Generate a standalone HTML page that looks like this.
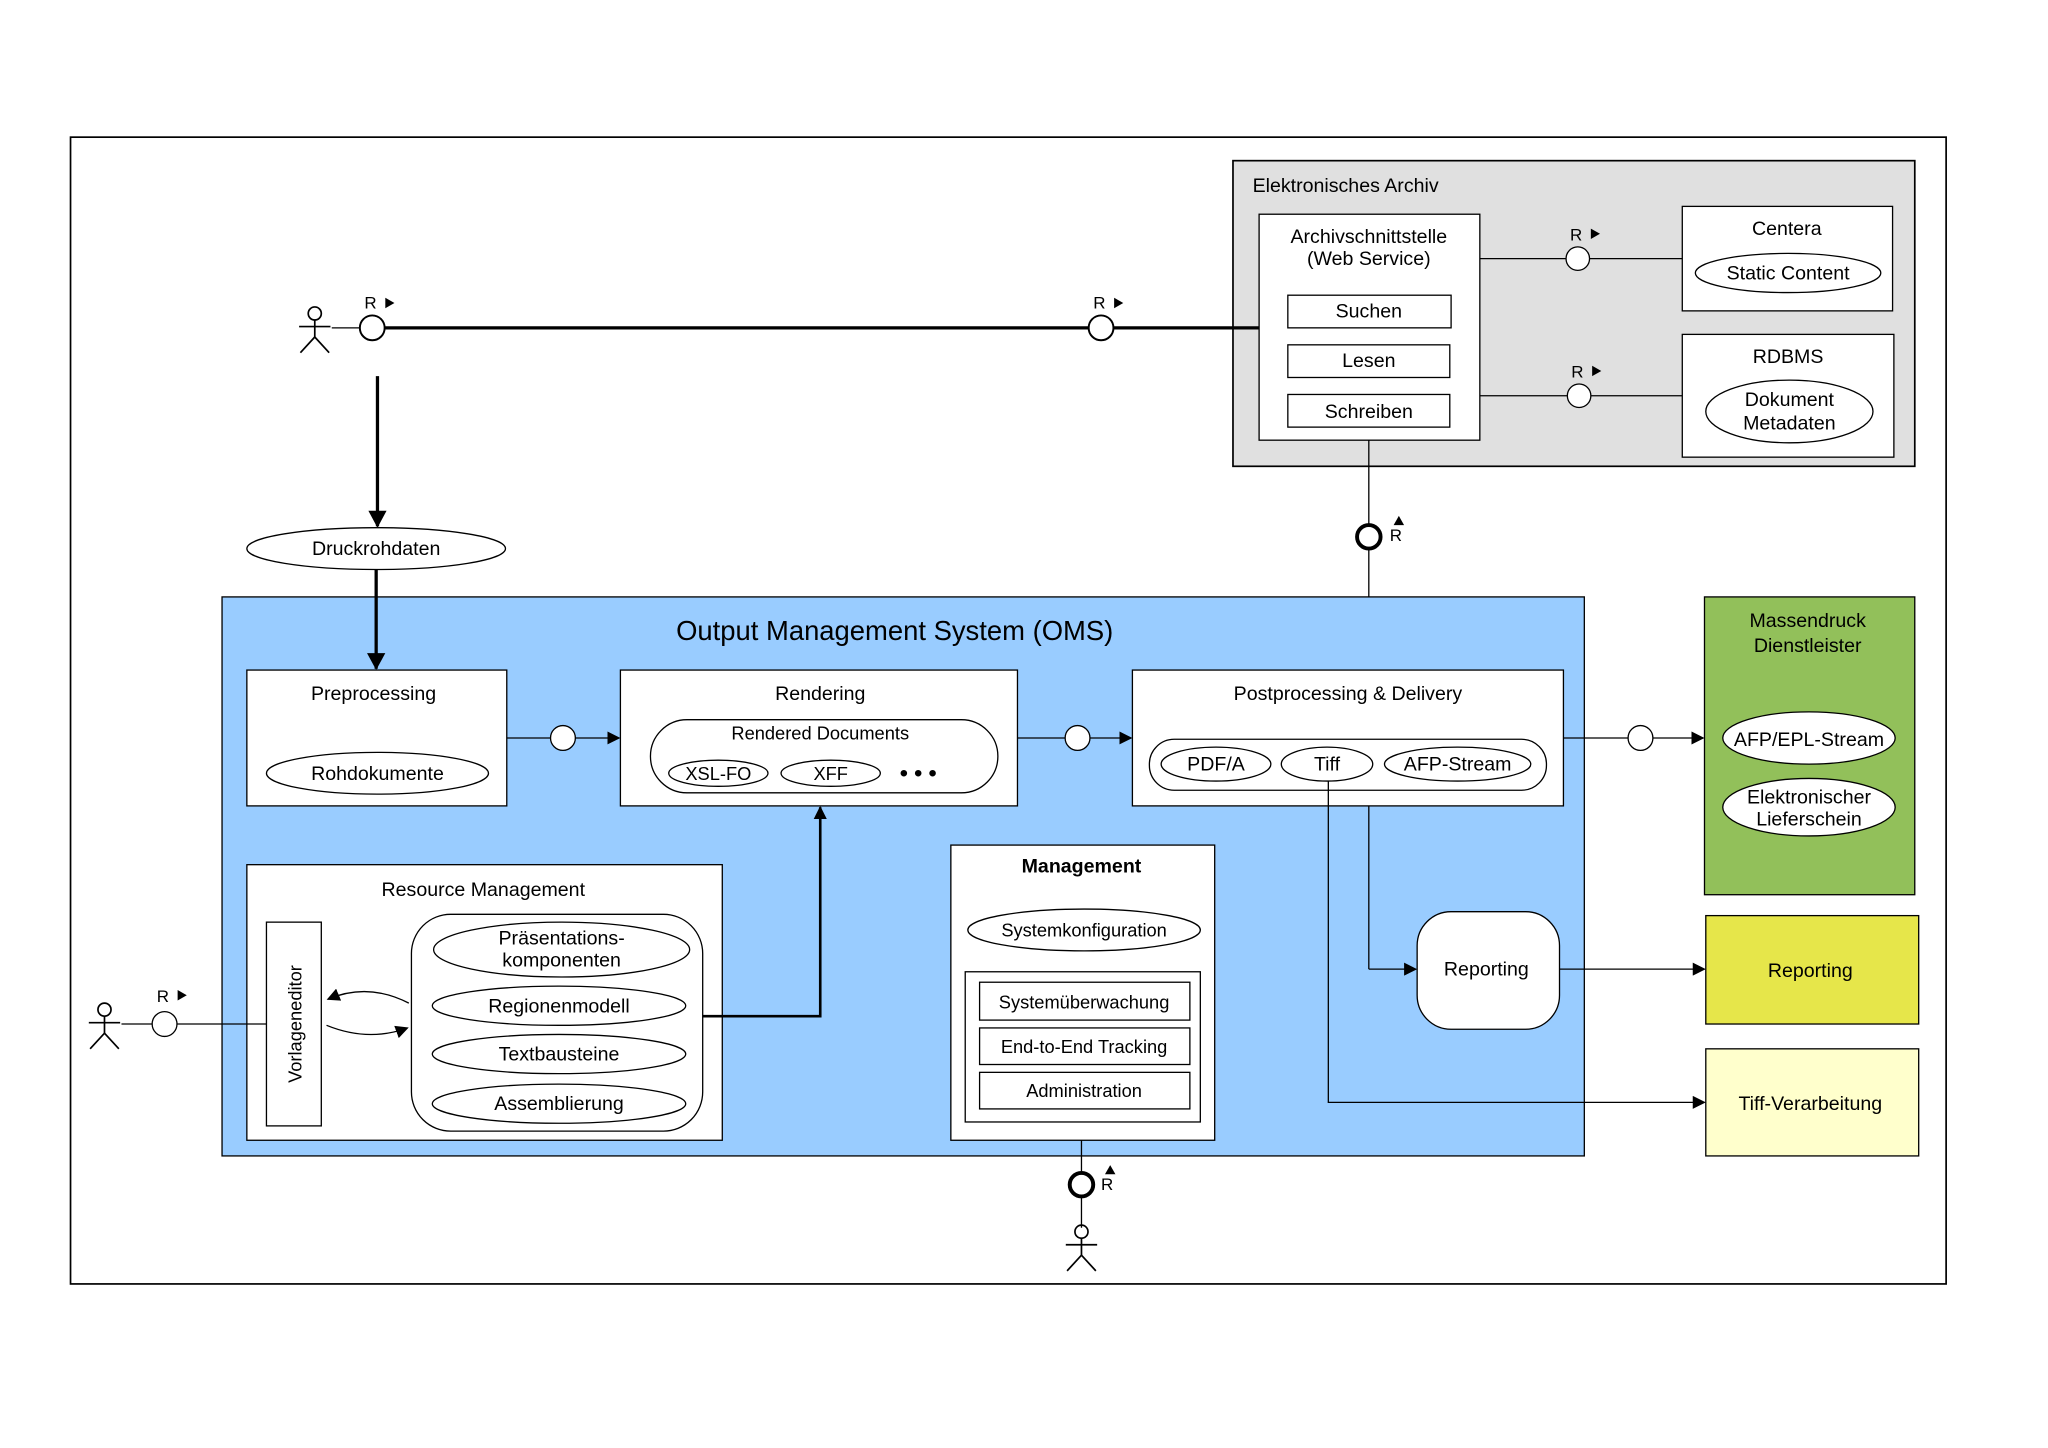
<!DOCTYPE html>
<html><head><meta charset="utf-8"><style>
html,body{margin:0;padding:0;background:#fff}
svg{display:block}
text{font-family:"Liberation Sans",sans-serif;fill:#000}
</style></head><body>
<svg width="2048" height="1448" viewBox="0 0 1568 1108.6" xmlns="http://www.w3.org/2000/svg" font-size="15">
<defs>
<marker id="a" markerWidth="10" markerHeight="10" refX="9" refY="5" orient="auto" markerUnits="userSpaceOnUse"><path d="M0,0 L10,5 L0,10 z" fill="#000"/></marker>
<marker id="ab" markerWidth="14" markerHeight="14" refX="12" refY="7" orient="auto" markerUnits="userSpaceOnUse"><path d="M0,0 L13,7 L0,14 z" fill="#000"/></marker>
<g id="actor" fill="none" stroke="#000" stroke-width="1.3"><circle cx="0" cy="-12" r="5"/><line x1="0" y1="-7" x2="0" y2="6"/><line x1="-12" y1="-2" x2="12" y2="-2"/><line x1="0" y1="6" x2="-11" y2="18"/><line x1="0" y1="6" x2="11" y2="18"/></g>
</defs>
<rect x="54" y="105" width="1436" height="878" fill="none" stroke="#000" stroke-width="1.3"/>

<rect x="944" y="123" width="522" height="234" fill="#e0e0e0" stroke="#000" stroke-width="1.3"/>
<text x="959" y="147">Elektronisches Archiv</text>
<rect x="964" y="164" width="169" height="173" fill="#fff" stroke="#000"/>
<text x="1048" y="186" text-anchor="middle">Archivschnittstelle</text>
<text x="1048" y="203" text-anchor="middle">(Web Service)</text>
<rect x="986" y="226" width="125" height="25" fill="#fff" stroke="#000"/><text x="1048" y="243" text-anchor="middle">Suchen</text>
<rect x="986" y="264" width="124" height="25" fill="#fff" stroke="#000"/><text x="1048" y="281" text-anchor="middle">Lesen</text>
<rect x="986" y="302" width="124" height="25" fill="#fff" stroke="#000"/><text x="1048" y="320" text-anchor="middle">Schreiben</text>
<rect x="1288" y="158" width="161" height="80" fill="#fff" stroke="#000"/>
<text x="1368" y="180" text-anchor="middle">Centera</text>
<ellipse cx="1369" cy="209" rx="71" ry="15" fill="#fff" stroke="#000"/><text x="1369" y="214" text-anchor="middle">Static Content</text>
<rect x="1288" y="256" width="162" height="94" fill="#fff" stroke="#000"/>
<text x="1369" y="278" text-anchor="middle">RDBMS</text>
<ellipse cx="1370" cy="315" rx="64" ry="24" fill="#fff" stroke="#000"/>
<text x="1370" y="311" text-anchor="middle">Dokument</text><text x="1370" y="329" text-anchor="middle">Metadaten</text>
<line x1="1133" y1="198" x2="1288" y2="198" stroke="#000"/><circle cx="1208" cy="198" r="9" fill="#fff" stroke="#000"/>
<text x="1202" y="184" font-size="13">R</text><path d="M1218,175 l7,4 l-7,4z"/>
<line x1="1133" y1="303" x2="1288" y2="303" stroke="#000"/><circle cx="1209" cy="303" r="9" fill="#fff" stroke="#000"/>
<text x="1203" y="289" font-size="13">R</text><path d="M1219,280 l7,4 l-7,4z"/>

<use href="#actor" x="241" y="252"/>
<line x1="254" y1="251" x2="276" y2="251" stroke="#000"/>
<line x1="294" y1="251" x2="964" y2="251" stroke="#000" stroke-width="2.5"/>
<circle cx="285" cy="251" r="9.5" fill="#fff" stroke="#000" stroke-width="1.5"/>
<circle cx="843" cy="251" r="9.5" fill="#fff" stroke="#000" stroke-width="1.5"/>
<text x="279" y="236" font-size="13">R</text><path d="M295,228 l7,4 l-7,4z"/>
<text x="837" y="236" font-size="13">R</text><path d="M853,228 l7,4 l-7,4z"/>

<line x1="1048" y1="337" x2="1048" y2="402" stroke="#000"/>
<circle cx="1048" cy="411" r="9" fill="#fff" stroke="#000" stroke-width="3"/>
<line x1="1048" y1="420" x2="1048" y2="513" stroke="#000"/>
<text x="1064" y="414" font-size="13">R</text><path d="M1067,402 l4,-7 l4,7z"/>

<line x1="289" y1="288" x2="289" y2="403" stroke="#000" stroke-width="2.5" marker-end="url(#ab)"/>
<ellipse cx="288" cy="420" rx="99" ry="16" fill="#fff" stroke="#000"/>
<text x="288" y="425" text-anchor="middle">Druckrohdaten</text>

<rect x="170" y="457" width="1043" height="428" fill="#99ccff" stroke="#000"/>
<text x="685" y="490" text-anchor="middle" font-size="21">Output Management System (OMS)</text>
<line x1="288" y1="436" x2="288" y2="512" stroke="#000" stroke-width="2.5" marker-end="url(#ab)"/>

<rect x="189" y="513" width="199" height="104" fill="#fff" stroke="#000"/>
<text x="286" y="536" text-anchor="middle">Preprocessing</text>
<ellipse cx="289" cy="592" rx="85" ry="16" fill="#fff" stroke="#000"/><text x="289" y="597" text-anchor="middle">Rohdokumente</text>

<line x1="388" y1="565" x2="474" y2="565" stroke="#000" marker-end="url(#a)"/>
<circle cx="431" cy="565" r="9.5" fill="#fff" stroke="#000"/>

<rect x="475" y="513" width="304" height="104" fill="#fff" stroke="#000"/>
<text x="628" y="536" text-anchor="middle">Rendering</text>
<rect x="498" y="551" width="266" height="56" rx="28" fill="#fff" stroke="#000"/>
<text x="628" y="566" text-anchor="middle" font-size="14">Rendered Documents</text>
<ellipse cx="550" cy="592" rx="38" ry="10" fill="#fff" stroke="#000"/><text x="550" y="597" text-anchor="middle" font-size="14">XSL-FO</text>
<ellipse cx="636" cy="592" rx="38" ry="10" fill="#fff" stroke="#000"/><text x="636" y="597" text-anchor="middle" font-size="14">XFF</text>
<circle cx="692" cy="592" r="2.5"/><circle cx="703" cy="592" r="2.5"/><circle cx="714" cy="592" r="2.5"/>

<line x1="779" y1="565" x2="866" y2="565" stroke="#000" marker-end="url(#a)"/>
<circle cx="825" cy="565" r="9.5" fill="#fff" stroke="#000"/>

<rect x="867" y="513" width="330" height="104" fill="#fff" stroke="#000"/>
<text x="1032" y="536" text-anchor="middle">Postprocessing &amp; Delivery</text>
<rect x="880" y="566" width="304" height="39" rx="19" fill="#fff" stroke="#000"/>
<ellipse cx="931" cy="585" rx="42" ry="13" fill="#fff" stroke="#000"/><text x="931" y="590" text-anchor="middle">PDF/A</text>
<ellipse cx="1016" cy="585" rx="35" ry="13" fill="#fff" stroke="#000"/><text x="1016" y="590" text-anchor="middle">Tiff</text>
<ellipse cx="1116" cy="585" rx="56" ry="13" fill="#fff" stroke="#000"/><text x="1116" y="590" text-anchor="middle">AFP-Stream</text>

<line x1="1197" y1="565" x2="1304" y2="565" stroke="#000" marker-end="url(#a)"/>
<circle cx="1256" cy="565" r="9.5" fill="#fff" stroke="#000"/>

<rect x="1305" y="457" width="161" height="228" fill="#92c05a" stroke="#000"/>
<text x="1384" y="480" text-anchor="middle">Massendruck</text>
<text x="1384" y="499" text-anchor="middle">Dienstleister</text>
<ellipse cx="1385" cy="565" rx="66" ry="20" fill="#fff" stroke="#000"/><text x="1385" y="571" text-anchor="middle">AFP/EPL-Stream</text>
<ellipse cx="1385" cy="618" rx="66" ry="22" fill="#fff" stroke="#000"/>
<text x="1385" y="615" text-anchor="middle">Elektronischer</text><text x="1385" y="632" text-anchor="middle">Lieferschein</text>

<line x1="1048" y1="617" x2="1048" y2="742" stroke="#000"/>
<line x1="1048" y1="742" x2="1084" y2="742" stroke="#000" marker-end="url(#a)"/>
<rect x="1085" y="698" width="109" height="90" rx="26" fill="#fff" stroke="#000"/>
<text x="1138" y="747" text-anchor="middle">Reporting</text>
<line x1="1194" y1="742" x2="1305" y2="742" stroke="#000" marker-end="url(#a)"/>
<rect x="1306" y="701" width="163" height="83" fill="#e6e64a" stroke="#000"/>
<text x="1386" y="748" text-anchor="middle">Reporting</text>
<polyline points="1017,598 1017,844 1305,844" fill="none" stroke="#000" marker-end="url(#a)"/>
<rect x="1306" y="803" width="163" height="82" fill="#ffffcc" stroke="#000"/>
<text x="1386" y="850" text-anchor="middle">Tiff-Verarbeitung</text>

<rect x="189" y="662" width="364" height="211" fill="#fff" stroke="#000"/>
<text x="370" y="686" text-anchor="middle">Resource Management</text>
<rect x="204" y="706" width="42" height="156" fill="#fff" stroke="#000"/>
<text transform="translate(231,784) rotate(-90)" text-anchor="middle" font-size="14">Vorlageneditor</text>
<rect x="315" y="700" width="223" height="166" rx="30" fill="#fff" stroke="#000"/>
<ellipse cx="430" cy="727" rx="98" ry="21" fill="#fff" stroke="#000"/>
<text x="430" y="723" text-anchor="middle">Präsentations-</text><text x="430" y="740" text-anchor="middle">komponenten</text>
<ellipse cx="428" cy="770" rx="97" ry="15" fill="#fff" stroke="#000"/><text x="428" y="775" text-anchor="middle">Regionenmodell</text>
<ellipse cx="428" cy="807" rx="97" ry="15" fill="#fff" stroke="#000"/><text x="428" y="812" text-anchor="middle">Textbausteine</text>
<ellipse cx="428" cy="845" rx="97" ry="15" fill="#fff" stroke="#000"/><text x="428" y="850" text-anchor="middle">Assemblierung</text>
<path d="M313,768 Q282,752 251,765" fill="none" stroke="#000" marker-end="url(#a)"/>
<path d="M250,785 Q282,798 312,787" fill="none" stroke="#000" marker-end="url(#a)"/>
<polyline points="538,778 628,778 628,618" fill="none" stroke="#000" stroke-width="2" marker-end="url(#a)"/>

<use href="#actor" x="80" y="785"/>
<line x1="93" y1="784" x2="204" y2="784" stroke="#000"/>
<circle cx="126" cy="784" r="9.5" fill="#fff" stroke="#000"/>
<text x="120" y="767" font-size="13">R</text><path d="M136,758 l7,4 l-7,4z"/>

<rect x="728" y="647" width="202" height="226" fill="#fff" stroke="#000"/>
<text x="828" y="668" text-anchor="middle" font-weight="bold">Management</text>
<ellipse cx="830" cy="712" rx="89" ry="16" fill="#fff" stroke="#000"/><text x="830" y="717" text-anchor="middle" font-size="14">Systemkonfiguration</text>
<rect x="739" y="744" width="180" height="115" fill="#fff" stroke="#000"/>
<rect x="750" y="752" width="161" height="29" fill="#fff" stroke="#000"/><text x="830" y="772" text-anchor="middle" font-size="14">Systemüberwachung</text>
<rect x="750" y="787" width="161" height="28" fill="#fff" stroke="#000"/><text x="830" y="806" text-anchor="middle" font-size="14">End-to-End Tracking</text>
<rect x="750" y="821" width="161" height="28" fill="#fff" stroke="#000"/><text x="830" y="840" text-anchor="middle" font-size="14">Administration</text>

<line x1="828" y1="873" x2="828" y2="898" stroke="#000"/>
<circle cx="828" cy="907" r="9" fill="#fff" stroke="#000" stroke-width="3"/>
<line x1="828" y1="916" x2="828" y2="940" stroke="#000"/>
<text x="843" y="911" font-size="13">R</text><path d="M846,899 l4,-7 l4,7z"/>
<use href="#actor" x="828" y="955"/>
</svg>
</body></html>
